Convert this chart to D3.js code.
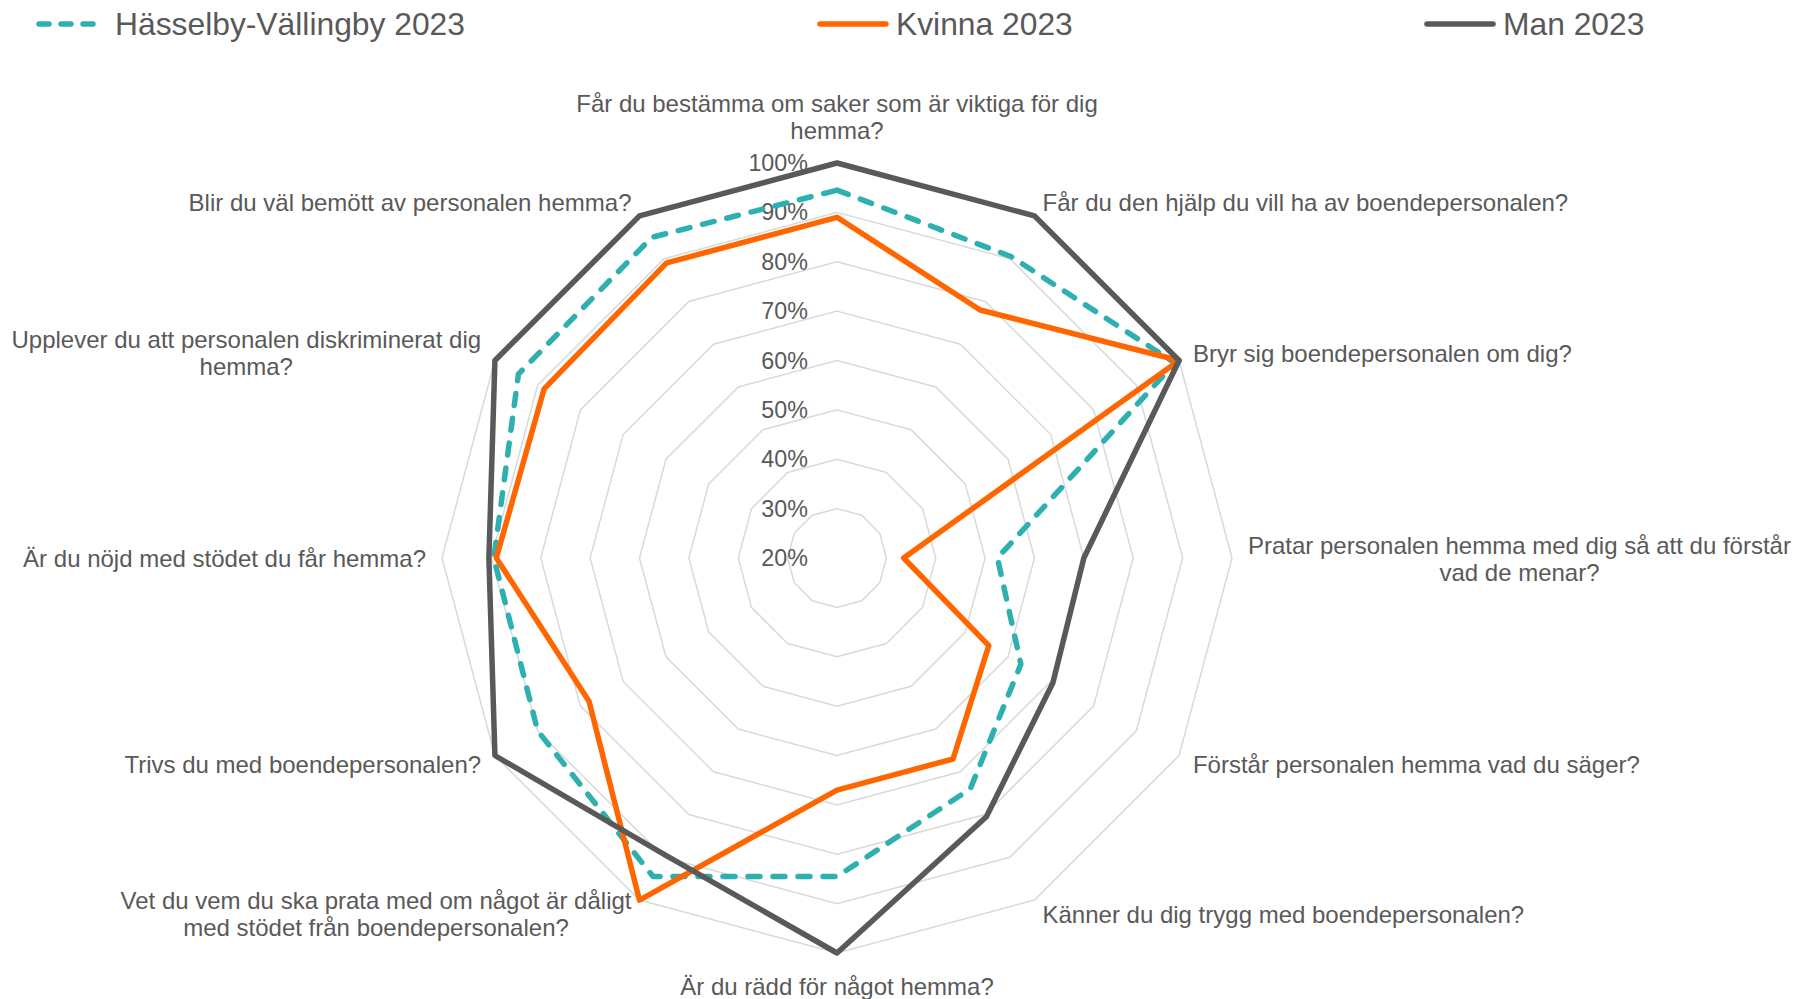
<!DOCTYPE html>
<html>
<head>
<meta charset="utf-8">
<script src="https://cdn.jsdelivr.net/npm/d3@7"></script>
<style>
  body { margin: 0; background: #fff; }
  svg { display: block; font-family: "Liberation Sans", Arial, sans-serif; }
</style>
</head>
<body>
<svg id="chart" width="1798" height="999"></svg>
<script>
// Categories (clockwise from top), wrapped as in the original
const categories = [
    ['Får du bestämma om saker som är viktiga för dig', 'hemma?'],
    ['Får du den hjälp du vill ha av boendepersonalen?'],
    ['Bryr sig boendepersonalen om dig?'],
    ['Pratar personalen hemma med dig så att du förstår', 'vad de menar?'],
    ['Förstår personalen hemma vad du säger?'],
    ['Känner du dig trygg med boendepersonalen?'],
    ['Är du rädd för något hemma?'],
    ['Vet du vem du ska prata med om något är dåligt', 'med stödet från boendepersonalen?'],
    ['Trivs du med boendepersonalen?'],
    ['Är du nöjd med stödet du får hemma?'],
    ['Upplever du att personalen diskriminerat dig', 'hemma?'],
    ['Blir du väl bemött av personalen hemma?']
];

const seriesNames = ['Hässelby-Vällingby 2023', 'Kvinna 2023', 'Man 2023'];
const hasselby = [94.5, 90.5, 99, 52.5, 63, 74, 84.5, 94.5, 90, 89.5, 94.5, 95];
const kvinna   = [89, 78, 100, 33.5, 55.5, 67, 67, 100, 78, 89, 88.5, 89];
const man      = [100, 100, 100, 70, 70.5, 80.5, 100, 89.5, 100, 90.5, 100, 100];

const tickValues = [20, 30, 40, 50, 60, 70, 80, 90, 100];

(function() {
    const cx = 837, cy = 558, R = 395;
    const textColor = '#595959';
    const colors = ['#2eb0b0', '#ff6600', '#595959'];
    const dashes = ['12,13', null, null];
    const legendX = [36, 817, 1424];

    const svg = d3.select('#chart');
    const n = categories.length;

    const r = d3.scaleLinear().domain([20, 100]).range([0, R]);
    const angle = d3.scaleLinear().domain([0, n]).range([0, 2 * Math.PI]);

    const g = svg.append('g').attr('transform', `translate(${cx},${cy})`);

    const line = d3.lineRadial()
        .angle((d, i) => angle(i))
        .radius(d => r(d))
        .curve(d3.curveLinearClosed);

    // grid rings
    g.selectAll('.ring')
        .data(tickValues.filter(v => v > 20))
        .enter()
        .append('path')
        .attr('d', v => line(d3.range(n).map(() => v)))
        .attr('fill', 'none')
        .attr('stroke', '#d9d9d9')
        .attr('stroke-width', 1.5);

    // tick labels
    g.selectAll('.tick')
        .data(tickValues)
        .enter()
        .append('text')
        .attr('x', -29)
        .attr('y', v => -r(v))
        .attr('text-anchor', 'end')
        .attr('dominant-baseline', 'central')
        .attr('font-size', '23.3px')
        .attr('fill', textColor)
        .text(v => v + '%');

    // series
    g.selectAll('.series')
        .data([hasselby, kvinna, man])
        .enter()
        .append('path')
        .attr('d', d => line(d))
        .attr('fill', 'none')
        .attr('stroke', (d, i) => colors[i])
        .attr('stroke-width', 5.5)
        .attr('stroke-linejoin', 'round')
        .attr('stroke-linecap', (d, i) => dashes[i] ? 'round' : 'butt')
        .attr('stroke-dasharray', (d, i) => dashes[i]);

    // category labels
    const pad = 16, lh = 27, fs = 24;
    categories.forEach((lines, i) => {
        const a = angle(i);
        const dx = Math.sin(a), dy = -Math.cos(a);
        const ax = (R + pad) * dx, ay = (R + pad) * dy;

        const t = g.append('text')
            .attr('font-size', fs + 'px')
            .attr('fill', textColor)
            .attr('text-anchor', 'middle')
            .attr('dominant-baseline', 'central');
        const spans = lines.map(s => t.append('tspan').text(s));
        const w = d3.max(spans, s => s.node().getComputedTextLength());
        const h = lines.length * lh;

        let bx;
        if (dx > 0.01) bx = ax + w / 2;
        else if (dx < -0.01) bx = ax - w / 2;
        else bx = ax;

        let top;
        if (Math.abs(dx) < 0.01) top = dy < 0 ? ay - h - 4 : ay + 3;
        else top = ay - h / 2;

        spans.forEach((s, k) => {
            s.attr('x', bx).attr('y', top + lh * k + lh / 2);
        });
    });

    // legend
    const legend = svg.append('g');
    seriesNames.forEach((name, i) => {
        const x = legendX[i], y = 24;
        legend.append('line')
            .attr('x1', x + 3).attr('x2', x + 69)
            .attr('y1', y).attr('y2', y)
            .attr('stroke', colors[i])
            .attr('stroke-width', 5.5)
            .attr('stroke-linecap', 'round')
            .attr('stroke-dasharray', dashes[i] ? '10,12' : null);
        legend.append('text')
            .attr('x', x + 79)
            .attr('y', y)
            .attr('dominant-baseline', 'central')
            .attr('font-size', '31.8px')
            .attr('fill', textColor)
            .text(name);
    });
})();
</script>
</body>
</html>
